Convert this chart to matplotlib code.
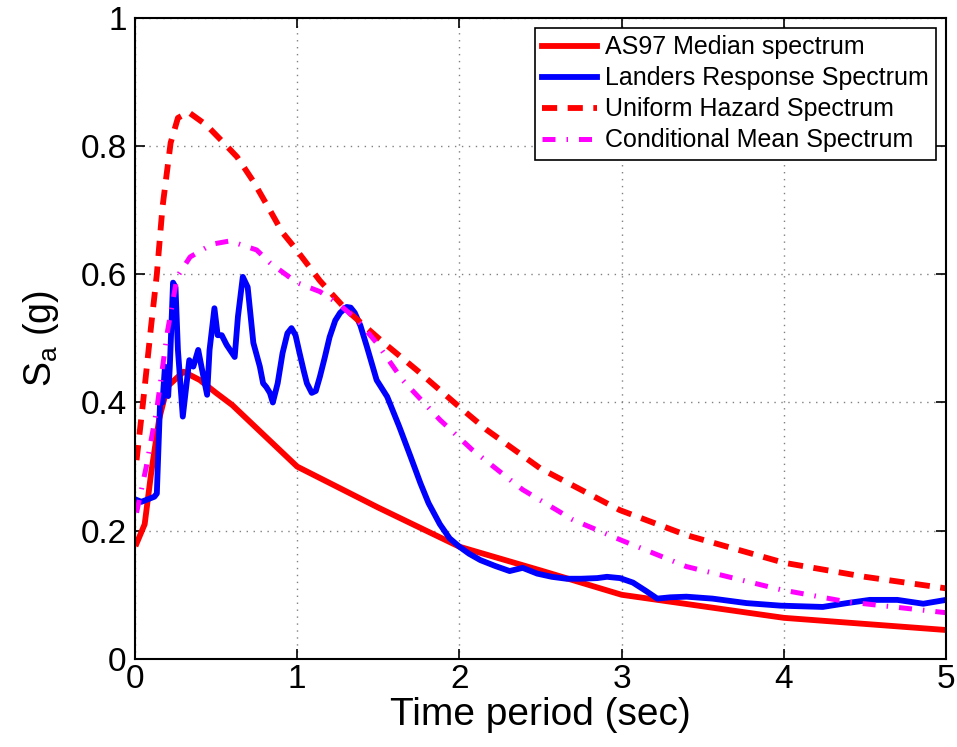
import numpy as np
import matplotlib
matplotlib.use("Agg")
import matplotlib.pyplot as plt

plt.rcParams['font.family'] = ['Liberation Sans', 'DejaVu Sans']

# AS97 median spectrum
t_med = [0.01, 0.06, 0.1, 0.15, 0.2, 0.3, 0.4, 0.5, 0.6, 1.0, 1.5, 2.0, 2.5, 3.0, 4.0, 5.0]
sa_med = [0.18, 0.21, 0.29, 0.375, 0.425, 0.448, 0.435, 0.415, 0.396, 0.30, 0.236, 0.175, 0.138, 0.10, 0.064, 0.045]

# Landers response spectrum
t_lan = [0.01, 0.04, 0.07, 0.12, 0.135, 0.155, 0.17, 0.185, 0.205, 0.215, 0.235, 0.25, 0.265, 0.295, 0.335,
         0.36, 0.39, 0.41, 0.445, 0.46, 0.49, 0.51, 0.535, 0.565, 0.615, 0.635, 0.665, 0.695, 0.73,
         0.77, 0.79, 0.81, 0.832, 0.85, 0.88, 0.91, 0.94, 0.965, 0.99, 1.015, 1.04, 1.06, 1.09, 1.115,
         1.14, 1.17, 1.2, 1.235, 1.265, 1.305, 1.33, 1.355, 1.39, 1.43, 1.49, 1.555, 1.63, 1.7, 1.76,
         1.81, 1.88, 1.94, 2.0, 2.06, 2.13, 2.22, 2.31, 2.39, 2.48, 2.57, 2.66, 2.75, 2.85, 2.91, 2.99,
         3.07, 3.15, 3.22, 3.3, 3.4, 3.56, 3.77, 3.98, 4.24, 4.39, 4.53, 4.7, 4.86, 5.0]
sa_lan = [0.248, 0.245, 0.248, 0.253, 0.258, 0.40, 0.40, 0.456, 0.41, 0.456, 0.587, 0.58, 0.482, 0.378, 0.466,
          0.456, 0.482, 0.456, 0.412, 0.482, 0.547, 0.505, 0.505, 0.49, 0.471, 0.534, 0.596, 0.58, 0.493,
          0.456, 0.43, 0.424, 0.415, 0.40, 0.43, 0.477, 0.508, 0.516, 0.505, 0.477, 0.45, 0.43, 0.415, 0.418,
          0.44, 0.47, 0.502, 0.528, 0.54, 0.549, 0.548, 0.54, 0.52, 0.487, 0.435, 0.409, 0.362, 0.315, 0.274,
          0.243, 0.21, 0.188, 0.175, 0.164, 0.154, 0.145, 0.137, 0.142, 0.133, 0.128, 0.125, 0.125, 0.126, 0.128, 0.126,
          0.119, 0.106, 0.094, 0.096, 0.097, 0.094, 0.087, 0.083, 0.081, 0.087, 0.092, 0.092, 0.086, 0.092]

# Uniform hazard spectrum
t_uhs = [0.01, 0.05, 0.1, 0.135, 0.17, 0.22, 0.265, 0.33, 0.44, 0.54, 0.63, 0.73, 0.832, 0.91, 0.987, 1.14,
         1.305, 1.53, 1.74, 2.0, 2.17, 2.5, 2.99, 3.4, 4.0, 4.5, 5.0]
sa_uhs = [0.31, 0.40, 0.52, 0.60, 0.705, 0.805, 0.844, 0.853, 0.833, 0.807, 0.783, 0.745, 0.70, 0.665, 0.641, 0.59,
          0.544, 0.494, 0.45, 0.393, 0.357, 0.297, 0.232, 0.193, 0.15, 0.128, 0.11]

# Conditional mean spectrum
t_cms = [0.01, 0.07, 0.135, 0.2, 0.26, 0.34, 0.475, 0.585, 0.75, 0.832, 0.998, 1.14, 1.245, 1.37, 1.49, 1.65,
         1.88, 2.08, 2.39, 2.7, 2.99, 3.4, 3.98, 4.39, 5.0]
sa_cms = [0.228, 0.30, 0.39, 0.51, 0.596, 0.627, 0.647, 0.652, 0.638, 0.618, 0.587, 0.573, 0.556, 0.529, 0.493, 0.435,
          0.373, 0.326, 0.264, 0.217, 0.186, 0.144, 0.108, 0.089, 0.072]

fig = plt.figure(figsize=(9.57, 7.47), dpi=100)
ax = fig.add_axes([0.141, 0.118, 0.8475, 0.858])

ax.plot(t_med, sa_med, color='red', lw=4.2, label='AS97 Median spectrum')
ax.plot(t_lan, sa_lan, color='blue', lw=4.2, label='Landers Response Spectrum')
ax.plot(t_uhs, sa_uhs, color='red', lw=4.2, linestyle=(0, (2.6, 1.8)), label='Uniform Hazard Spectrum')
ax.plot(t_cms, sa_cms, color='magenta', lw=3.6, linestyle=(0, (2.6, 2.2, 0.3, 2.2)),
        label='Conditional Mean Spectrum')

ax.set_xlim(0, 5)
ax.set_ylim(0, 1)
ax.set_xticks([0, 1, 2, 3, 4, 5])
ax.set_yticks([0, 0.2, 0.4, 0.6, 0.8, 1])
ax.set_yticklabels(['0', '0.2', '0.4', '0.6', '0.8', '1'])
ax.tick_params(direction='in', labelsize=24, length=7, width=1.2, top=True, right=True)
ax.tick_params(axis='x', pad=4)
ax.tick_params(axis='y', pad=6)
for s in ax.spines.values():
    s.set_linewidth(1.5)
ax.grid(True, linestyle=(0, (1, 4)), color='gray', lw=1)

ax.set_xlabel('Time period (sec)', fontsize=28, labelpad=1)
ax.set_ylabel(r'S$_\mathregular{a}$ (g)', fontsize=27, labelpad=14)

leg = ax.legend(loc='upper right', fontsize=18, fancybox=False, framealpha=1, edgecolor='black',
                handlelength=2.2, handletextpad=0.3, borderaxespad=0.4, labelspacing=0.28, borderpad=0.3)
leg.get_frame().set_linewidth(1.2)

fig.savefig('out.png', dpi=100)
